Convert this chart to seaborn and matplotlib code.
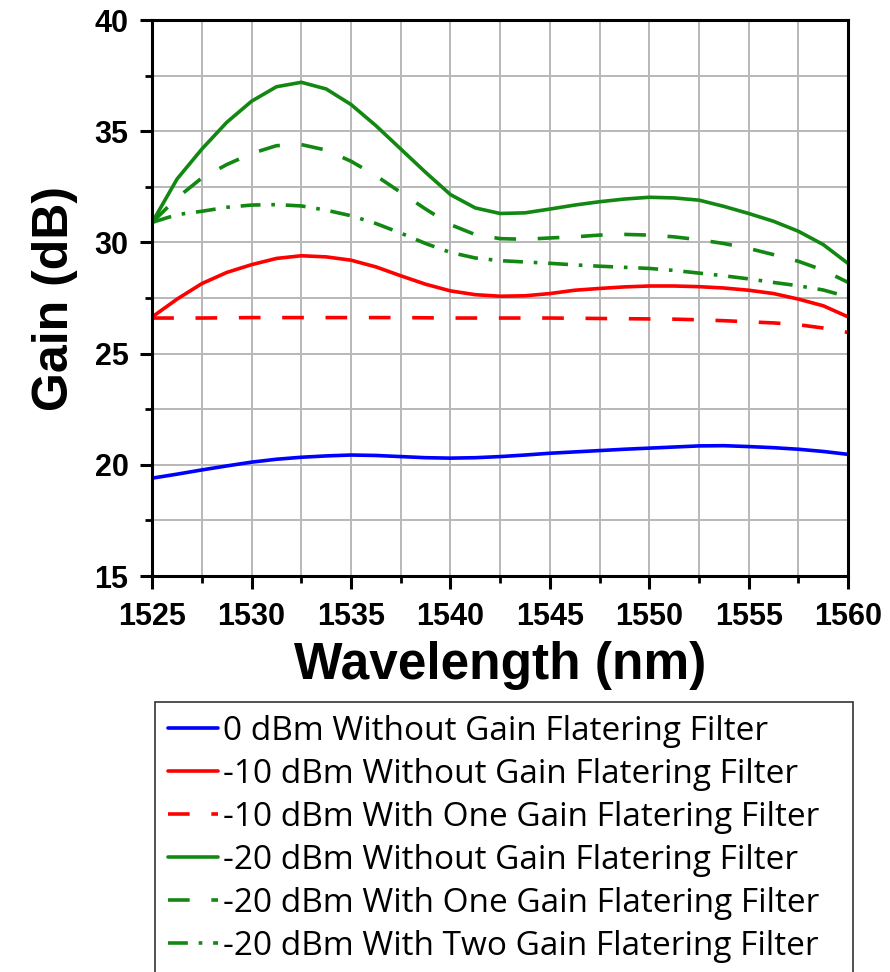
import matplotlib
matplotlib.use("Agg")
import matplotlib.pyplot as plt
import seaborn as sns
import pandas as pd

wavelength = [1525, 1526.25, 1527.5, 1528.75, 1530, 1531.25, 1532.5, 1533.75,
              1535, 1536.25, 1537.5, 1538.75, 1540, 1541.25, 1542.5, 1543.75,
              1545, 1546.25, 1547.5, 1548.75, 1550, 1551.25, 1552.5, 1553.75,
              1555, 1556.25, 1557.5, 1558.75, 1560]

gain_0dbm_no_gff = [19.40, 19.58, 19.77, 19.95, 20.12, 20.25, 20.34, 20.40,
                    20.44, 20.42, 20.37, 20.32, 20.30, 20.32, 20.37, 20.44,
                    20.52, 20.58, 20.64, 20.70, 20.75, 20.80, 20.85, 20.86,
                    20.82, 20.77, 20.70, 20.60, 20.47]
gain_m10_no_gff = [26.65, 27.45, 28.15, 28.65, 29.00, 29.28, 29.40, 29.35,
                   29.20, 28.90, 28.50, 28.12, 27.82, 27.65, 27.58, 27.60,
                   27.70, 27.85, 27.93, 28.00, 28.04, 28.04, 28.01, 27.95,
                   27.85, 27.70, 27.45, 27.15, 26.65]
gain_m10_one_gff = [26.60, 26.60, 26.60, 26.61, 26.62, 26.62, 26.62, 26.62,
                    26.62, 26.62, 26.62, 26.61, 26.60, 26.60, 26.60, 26.60,
                    26.60, 26.59, 26.58, 26.57, 26.56, 26.55, 26.52, 26.48,
                    26.43, 26.38, 26.30, 26.15, 25.95]
gain_m20_no_gff = [30.90, 32.85, 34.20, 35.40, 36.35, 37.00, 37.20, 36.90,
                   36.20, 35.25, 34.20, 33.15, 32.15, 31.55, 31.30, 31.33,
                   31.50, 31.68, 31.83, 31.95, 32.03, 32.00, 31.90, 31.62,
                   31.30, 30.95, 30.50, 29.90, 29.05]
gain_m20_one_gff = [30.90, 32.00, 32.90, 33.50, 34.00, 34.35, 34.40, 34.15,
                    33.65, 33.00, 32.25, 31.50, 30.80, 30.35, 30.17, 30.14,
                    30.20, 30.25, 30.33, 30.36, 30.33, 30.25, 30.12, 29.95,
                    29.73, 29.45, 29.15, 28.75, 28.20]
gain_m20_two_gff = [30.90, 31.25, 31.40, 31.58, 31.68, 31.70, 31.64, 31.45,
                    31.20, 30.85, 30.42, 29.95, 29.55, 29.30, 29.18, 29.12,
                    29.06, 28.99, 28.93, 28.88, 28.83, 28.74, 28.62, 28.50,
                    28.36, 28.20, 28.05, 27.86, 27.55]

labels = ["0 dBm Without Gain Flatering Filter",
          "-10 dBm Without Gain Flatering Filter",
          "-10 dBm With One Gain Flatering Filter",
          "-20 dBm Without Gain Flatering Filter",
          "-20 dBm With One Gain Flatering Filter",
          "-20 dBm With Two Gain Flatering Filter"]
series = [gain_0dbm_no_gff, gain_m10_no_gff, gain_m10_one_gff,
          gain_m20_no_gff, gain_m20_one_gff, gain_m20_two_gff]
colors = ["#0000ff", "#ff0000", "#ff0000", "#128812", "#128812", "#128812"]
dashes = [None, None, (6, 6), None, (6, 6), (5.5, 3, 1, 3)]

sns.set_style("white")
plt.rcParams['font.family'] = ['Liberation Sans', 'DejaVu Sans']
plt.rcParams['text.color'] = 'black'
plt.rcParams['axes.labelcolor'] = 'black'
plt.rcParams['xtick.color'] = 'black'
plt.rcParams['ytick.color'] = 'black'

fig = plt.figure(figsize=(8.9, 9.72), dpi=100)
ax = fig.add_axes([0.171, 0.4074, 0.782, 0.572])

for lab, vals, col, ds in zip(labels, series, colors, dashes):
    df = pd.DataFrame({"Wavelength": wavelength, "Gain": vals})
    sns.lineplot(data=df, x="Wavelength", y="Gain", ax=ax, color=col,
                 linewidth=2.6, label=lab)
    if ds is not None:
        ax.lines[-1].set_dashes(ds)

ax.set_xlim(1525, 1560)
ax.set_ylim(15, 40)
ax.set_xticks(range(1525, 1561, 5))
ax.set_yticks(range(15, 41, 5))
ax.set_xticks([1527.5 + 5 * i for i in range(7)], minor=True)
ax.set_yticks([17.5 + 5 * i for i in range(5)], minor=True)
ax.grid(True, which="both", color="#b8b8b8", linewidth=1.4)
ax.set_axisbelow(True)
for sp in ax.spines.values():
    sp.set_visible(True)
    sp.set_color("black")
    sp.set_linewidth(2.2)
ax.tick_params(which="major", direction="out", length=9, width=2.2,
               labelsize=22, left=True, bottom=True, colors="black")
ax.tick_params(axis="x", which="major", pad=10)
ax.tick_params(axis="y", which="major", pad=8)
ax.tick_params(which="minor", direction="out", length=5, width=2.0,
               left=True, bottom=True, colors="black")
for t in ax.get_xticklabels() + ax.get_yticklabels():
    t.set_fontweight("bold")

ax.set_xlabel("Wavelength (nm)", fontsize=37, fontweight="bold", labelpad=6,
              color="black")
ax.set_ylabel("Gain (dB)", fontsize=36, fontweight="bold", labelpad=12,
              color="black")

handles, labs = ax.get_legend_handles_labels()
ax.get_legend().remove()
leg = fig.legend(handles, labs, loc="upper left", mode="expand",
                 bbox_to_anchor=(0.174, 0.0, 0.784, 0.278), frameon=True,
                 fancybox=False, edgecolor="#333333", framealpha=1,
                 prop={"family": "Open Sans", "size": 24},
                 handlelength=1.5, handletextpad=0.15, labelspacing=0.3,
                 borderpad=0.4, borderaxespad=0, labelcolor="black")
leg.get_frame().set_linewidth(1.2)

fig.savefig("out.png", dpi=100)
